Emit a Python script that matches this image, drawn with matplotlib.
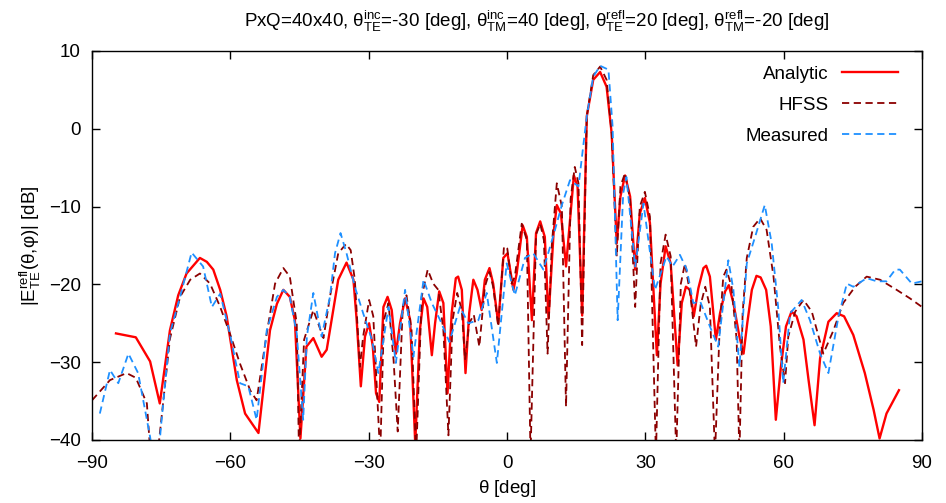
import matplotlib
matplotlib.use('Agg')
import matplotlib.pyplot as plt

plt.rcParams['font.family'] = ['Liberation Sans', 'DejaVu Sans']
plt.rcParams['mathtext.fontset'] = 'custom'
plt.rcParams['mathtext.rm'] = 'Liberation Sans'
plt.rcParams['mathtext.it'] = 'Liberation Sans'
plt.rcParams['mathtext.default'] = 'regular'

# Analytic
theta_a = [-84.8, -80.5, -77.4, -75.3, -73.1, -71.3, -69.5, -66.6, -65.1, -63.7,
           -62.2, -60.8, -58.6, -56.8, -53.9, -51.4, -49.9, -48.5, -47.1, -46.0,
           -44.8, -43.5, -42.0, -40.2, -39.1, -36.6, -34.8, -33.3, -32.6, -31.7,
           -30.8, -29.9, -29.1, -28.4, -27.7, -26.8, -25.9, -25.0, -24.1, -23.2,
           -22.1, -21.0, -19.9, -18.9, -18.1, -17.3, -16.3, -15.6, -14.7, -13.8,
           -12.9, -12.0, -11.1, -10.6, -9.8, -9.0, -8.2, -7.3, -6.4, -5.5,
           -4.8, -3.8, -3.0, -1.9, -0.8, 0.1, 1.4, 2.1, 3.4, 4.3,
           5.4, 6.3, 7.2, 8.2, 9.0, 10.1, 10.8, 11.7, 12.8, 13.8,
           14.5, 15.3, 16.3, 17.3, 18.7, 20.2, 21.6, 22.7, 23.8, 24.6,
           25.6, 26.7, 27.8, 28.8, 29.9, 31.0, 32.5, 33.3, 34.4, 35.5,
           37.0, 37.9, 38.8, 39.7, 40.5, 41.5, 42.6, 43.2, 44.0, 45.3,
           46.2, 47.3, 48.1, 49.1, 50.4, 51.3, 52.1, 53.1, 54.1, 55.0,
           56.2, 57.2, 58.3, 59.4, 60.5, 61.7, 62.8, 64.3, 65.4, 66.7,
           67.9, 69.7, 71.5, 73.1, 75.1, 77.6, 79.5, 80.8, 82.3, 85.0]
db_a = [-26.3, -26.8, -29.9, -35.3, -25.9, -21.4, -18.6, -16.6, -17.1, -18.1,
        -20.7, -24.1, -32.3, -36.6, -39.1, -25.9, -22.5, -20.7, -21.6, -24.6,
        -39.8, -28.0, -26.9, -29.3, -28.4, -19.4, -17.2, -19.4, -24.6, -33.1,
        -26.7, -25.0, -28.0, -34.0, -35.1, -22.9, -21.6, -23.3, -28.9, -25.0,
        -21.8, -24.6, -40.5, -25.9, -21.8, -22.9, -29.1, -25.0, -20.9, -22.4,
        -34.0, -23.7, -19.2, -19.0, -20.7, -31.4, -23.7, -19.4, -20.7, -23.3,
        -19.4, -17.9, -19.9, -25.0, -16.6, -16.0, -20.7, -18.6, -12.4, -13.9,
        -24.6, -13.4, -11.9, -13.9, -24.4, -13.4, -9.8, -10.9, -17.7, -10.9,
        -6.0, -7.4, -24.0, 1.6, 6.3, 7.3, 5.4, -0.6, -14.7, -8.7,
        -6.0, -8.7, -18.1, -10.9, -8.9, -12.1, -29.1, -19.9, -15.1, -17.3,
        -30.4, -22.4, -20.3, -20.7, -24.1, -20.5, -17.9, -17.6, -19.0, -27.1,
        -23.7, -20.9, -20.1, -22.4, -26.7, -28.9, -25.0, -20.7, -18.9, -19.1,
        -20.7, -25.4, -37.4, -30.6, -25.4, -23.5, -24.1, -27.1, -32.3, -38.1,
        -29.5, -24.8, -23.7, -24.1, -26.5, -31.4, -36.1, -39.8, -36.6, -33.6]

# HFSS
theta_h = [-90.0, -86.1, -82.5, -80.5, -78.1, -77.3, -75.8, -73.1, -70.9, -68.7,
           -66.6, -64.4, -62.2, -60.1, -57.9, -55.7, -54.3, -52.1, -50.3, -48.5,
           -47.1, -45.6, -45.1, -44.0, -42.0, -39.8, -38.4, -36.6, -34.9, -33.9,
           -33.0, -31.9, -31.2, -29.9, -29.0, -27.5, -26.7, -25.7, -24.6, -23.7,
           -22.6, -21.8, -20.7, -19.7, -18.5, -17.2, -16.0, -14.9, -13.8, -12.7,
           -11.8, -10.8, -9.8, -9.1, -8.2, -7.2, -6.0, -4.8, -3.8, -3.0,
           -1.9, -0.65, 0.07, 1.0, 1.7, 3.2, 4.3, 5.1, 6.3, 7.2,
           8.0, 8.8, 9.7, 10.8, 11.9, 12.8, 13.8, 14.7, 15.5, 16.3,
           17.3, 18.7, 20.2, 21.6, 22.7, 23.8, 24.6, 25.6, 26.7, 27.8,
           28.8, 29.9, 31.0, 32.3, 33.3, 34.4, 35.5, 36.7, 37.7, 38.6,
           39.8, 41.0, 42.0, 43.0, 44.0, 45.1, 46.1, 46.9, 47.6, 48.7,
           49.8, 50.4, 51.1, 52.0, 53.4, 54.9, 56.3, 57.8, 59.2, 60.3,
           61.0, 62.5, 64.3, 66.1, 68.6, 70.8, 72.9, 75.5, 78.0, 80.9,
           84.5, 87.4, 90.0]
db_h = [-34.9, -32.3, -31.4, -32.0, -35.3, -42.0, -42.0, -27.0, -21.6, -19.4,
        -18.6, -19.9, -22.9, -26.3, -30.2, -33.6, -34.9, -26.3, -19.9, -17.9,
        -19.0, -25.0, -42.0, -27.1, -23.3, -26.9, -21.6, -16.0, -14.8, -15.6,
        -19.4, -30.6, -26.7, -22.0, -24.1, -42.0, -24.6, -22.4, -29.7, -38.9,
        -22.9, -21.4, -25.9, -42.0, -21.6, -18.1, -19.9, -20.7, -25.9, -39.4,
        -24.6, -21.1, -23.3, -29.7, -25.0, -23.9, -28.0, -20.3, -18.4, -20.3,
        -25.4, -15.1, -15.4, -19.9, -19.0, -12.2, -14.3, -42.0, -13.6, -12.2,
        -14.3, -28.9, -15.1, -7.0, -10.0, -35.7, -9.0, -4.9, -7.0, -27.8,
        1.6, 6.9, 8.0, 6.3, -0.6, -16.4, -7.4, -5.7, -9.1, -22.9,
        -10.0, -8.1, -11.3, -42.0, -17.3, -13.6, -16.4, -42.0, -19.9, -17.3,
        -21.5, -28.0, -22.6, -20.3, -22.9, -42.0, -25.9, -19.0, -18.1, -20.3,
        -27.1, -42.0, -23.7, -16.6, -12.6, -11.5, -13.0, -19.0, -28.0, -32.7,
        -26.7, -23.5, -22.0, -23.5, -28.9, -25.9, -22.4, -20.3, -19.0, -19.4,
        -20.7, -21.8, -22.9]

# Measured
theta_m = [-88.3, -86.1, -84.3, -82.1, -80.0, -77.4, -76.8, -75.6, -75.0, -73.1,
           -70.9, -68.4, -65.9, -64.0, -62.2, -60.1, -57.9, -56.1, -54.3, -52.1,
           -49.9, -48.5, -47.1, -45.6, -44.2, -43.4, -42.0, -40.2, -38.4, -37.3,
           -36.1, -34.8, -33.0, -31.2, -29.3, -27.9, -25.7, -24.1, -22.1, -20.3,
           -18.1, -16.3, -14.5, -12.5, -10.2, -8.4, -6.2, -4.4, -2.2, -0.07,
           1.7, 3.9, 5.7, 7.9, 10.4, 11.9, 13.66, 15.5, 17.3, 18.7,
           20.2, 22.0, 22.9, 24.0, 25.2, 25.9, 27.8, 29.6, 32.1, 34.6,
           35.9, 37.5, 39.0, 40.4, 41.9, 44.0, 45.8, 48.0, 49.1, 50.4,
           52.0, 53.8, 55.9, 57.4, 58.8, 59.9, 61.4, 63.9, 65.7, 67.9,
           69.7, 71.9, 73.7, 75.1, 78.0, 80.2, 82.3, 84.2, 85.2, 87.8,
           90.0]
db_m = [-36.6, -31.0, -32.7, -28.9, -31.4, -39.6, -42.0, -42.0, -38.0, -26.3,
        -21.6, -15.9, -17.7, -22.9, -21.2, -26.3, -32.7, -33.1, -37.4, -25.9,
        -21.6, -20.7, -21.6, -26.3, -37.4, -26.7, -21.1, -26.7, -21.6, -16.0,
        -13.4, -16.0, -20.3, -23.7, -27.1, -31.4, -22.9, -30.1, -20.7, -29.3,
        -19.4, -22.4, -24.6, -27.4, -22.9, -25.0, -24.6, -21.1, -30.1, -17.3,
        -21.4, -16.6, -16.0, -18.1, -13.0, -9.8, -6.6, -7.4, 1.6, 6.7,
        8.1, 7.6, 0.3, -24.6, -8.3, -6.2, -17.7, -9.6, -20.7, -16.4,
        -17.7, -16.2, -18.1, -22.4, -22.2, -25.4, -28.0, -16.9, -20.7, -30.6,
        -17.3, -13.9, -9.8, -14.7, -22.9, -32.7, -23.7, -22.0, -24.6, -28.9,
        -31.4, -24.1, -19.9, -20.3, -19.2, -19.6, -19.6, -18.1, -18.1, -19.9,
        -19.6]

fs = 13.5

fig = plt.figure(figsize=(9.46, 5.03), dpi=100)
ax = fig.add_axes([92/946, 1 - 440/503, 830/946, 389/503])

ax.plot(theta_a, db_a, color='#ff0000', lw=1.7, label='Analytic')
ax.plot(theta_h, db_h, color='#8b0000', lw=1.3, dashes=(4, 2.5), label='HFSS')
ax.plot(theta_m, db_m, color='#1e90ff', lw=1.3, dashes=(4, 2.5), label='Measured')

ax.set_xlim(-90, 90)
ax.set_ylim(-40, 10)
ax.set_xticks([-90, -60, -30, 0, 30, 60, 90])
ax.set_yticks([-40, -30, -20, -10, 0, 10])
ax.tick_params(direction='in', length=6, width=1, top=True, right=True,
               labelsize=fs, pad=8)
ax.tick_params(axis='x', pad=11)
for s in ax.spines.values():
    s.set_linewidth(1)

ax.set_xlabel(r'$\theta$ [deg]', fontsize=fs, labelpad=4)
ax.set_ylabel(r'|$E_{TE}^{refl}(\theta{,}\varphi)$| [dB]', fontsize=fs, labelpad=4)
ax.set_title(r'PxQ=40x40, $\theta_{TE}^{inc}$=-30 [deg], $\theta_{TM}^{inc}$=40 [deg], '
             r'$\theta_{TE}^{refl}$=20 [deg], $\theta_{TM}^{refl}$=-20 [deg]',
             fontsize=fs, pad=17, x=0.536)

ax.legend(loc='upper right', bbox_to_anchor=(0.980, 0.982), borderaxespad=0,
          frameon=False, markerfirst=False, fontsize=fs,
          handlelength=3.0, handletextpad=0.7, labelspacing=0.74)

fig.savefig('out.png', dpi=100)
